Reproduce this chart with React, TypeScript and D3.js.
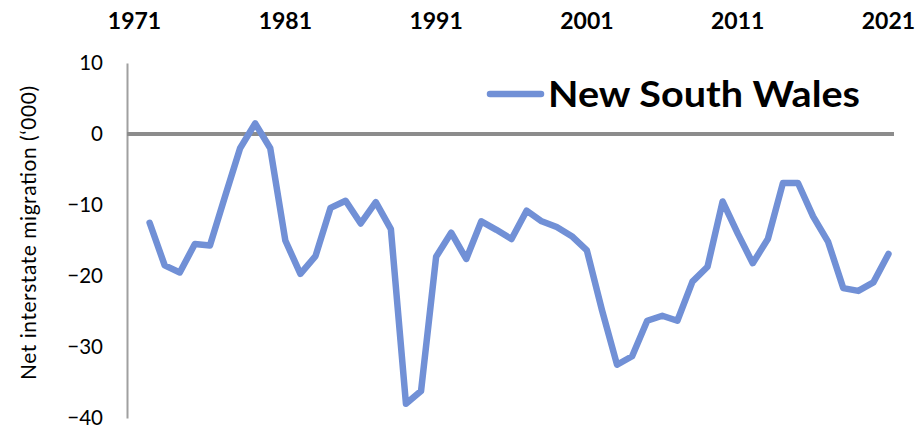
import React, { useRef, useEffect } from "react";
import * as d3 from "d3";

const years = d3.range(1971, 2022);
const labelYears = [1971, 1981, 1991, 2001, 2011, 2021];
const yTicks = [10, 0, -10, -20, -30, -40];
// NSW net interstate migration ('000), 1972-2021 (1971 has no value)
const nsw = [
  null, -12.5, -18.5, -19.5, -15.5, -15.7, -8.8, -2, 1.5, -2,
  -15, -19.7, -17.2, -10.4, -9.4, -12.6, -9.6, -13.4, -38, -36.2,
  -17.3, -13.9, -17.6, -12.3, -13.5, -14.8, -10.8, -12.3, -13.1, -14.4,
  -16.4, -24.8, -32.5, -31.3, -26.3, -25.6, -26.3, -20.8, -18.7, -9.5,
  -14, -18.2, -14.8, -6.9, -6.9, -11.6, -15.2, -21.7, -22.1, -20.9,
  -16.9,
];
const seriesName = "New South Wales";

const W = 916;
const H = 428;
const FONT = "Lato, 'Open Sans', sans-serif";

const App = () => {
  const svgRef = useRef<SVGSVGElement>(null);

  useEffect(() => {
    const svg = d3.select(svgRef.current);
    svg.selectAll("*").remove();

    const left = 127;
    const right = 896;
    const top = 63;
    const bottom = 418;

    const x = d3.scaleBand<number>().domain(years).range([left, right]).padding(0);
    const cx = (yr: number) => (x(yr) as number) + x.bandwidth() / 2;
    const y = d3.scaleLinear().domain([-40, 10]).range([bottom, top]);

    // Y axis
    const yAxis = svg
      .append("g")
      .attr("transform", `translate(${left},0)`)
      .call(d3.axisLeft(y).tickValues(yTicks).tickSize(0).tickPadding(24));
    yAxis.select(".domain").attr("stroke", "#a0a0a0").attr("stroke-width", 2);
    yAxis
      .selectAll("text")
      .attr("font-family", FONT)
      .attr("font-size", 20.5)
      .attr("fill", "#000");

    // zero line
    svg
      .append("line")
      .attr("x1", left)
      .attr("x2", right - 2)
      .attr("y1", y(0))
      .attr("y2", y(0))
      .attr("stroke", "#8c8c8c")
      .attr("stroke-width", 4);

    // Year labels across the top
    const xAxis = svg
      .append("g")
      .attr("transform", `translate(0,29)`)
      .call(
        d3
          .axisTop(x)
          .tickValues(labelYears)
          .tickSize(0)
          .tickPadding(0)
          .tickFormat((d) => String(d))
      );
    xAxis.select(".domain").remove();
    xAxis
      .selectAll("text")
      .attr("font-family", FONT)
      .attr("font-size", 23)
      .attr("font-weight", "bold")
      .attr("fill", "#000")
      .attr("dy", 0);

    // Y label
    svg
      .append("text")
      .attr("transform", `translate(36,233) rotate(-90)`)
      .attr("text-anchor", "middle")
      .attr("font-family", FONT)
      .attr("font-size", 21)
      .attr("textLength", 294)
      .attr("lengthAdjust", "spacing")
      .attr("fill", "#000")
      .text("Net interstate migration (\u2018000)");

    // Line
    const line = d3
      .line<number | null>()
      .defined((d) => d !== null)
      .x((_, i) => cx(years[i]))
      .y((d) => y(d as number));

    svg
      .append("path")
      .datum(nsw)
      .attr("d", line)
      .attr("fill", "none")
      .attr("stroke", "#7190d6")
      .attr("stroke-width", 6.5)
      .attr("stroke-linejoin", "round")
      .attr("stroke-linecap", "round");

    // Legend
    const lg = svg.append("g");
    lg.append("line")
      .attr("x1", 490)
      .attr("x2", 541)
      .attr("y1", 94)
      .attr("y2", 94)
      .attr("stroke", "#7190d6")
      .attr("stroke-width", 6.5)
      .attr("stroke-linecap", "round");
    lg.append("text")
      .attr("x", 548)
      .attr("y", 107)
      .attr("font-family", FONT)
      .attr("font-size", 37)
      .attr("font-weight", "bold")
      .attr("textLength", 312)
      .attr("lengthAdjust", "spacingAndGlyphs")
      .attr("fill", "#000")
      .text(seriesName);
  }, []);

  return (
    <svg
      ref={svgRef}
      width={W}
      height={H}
      style={{ position: "absolute", left: 0, top: 0, background: "#fff" }}
    />
  );
};

export default App;
